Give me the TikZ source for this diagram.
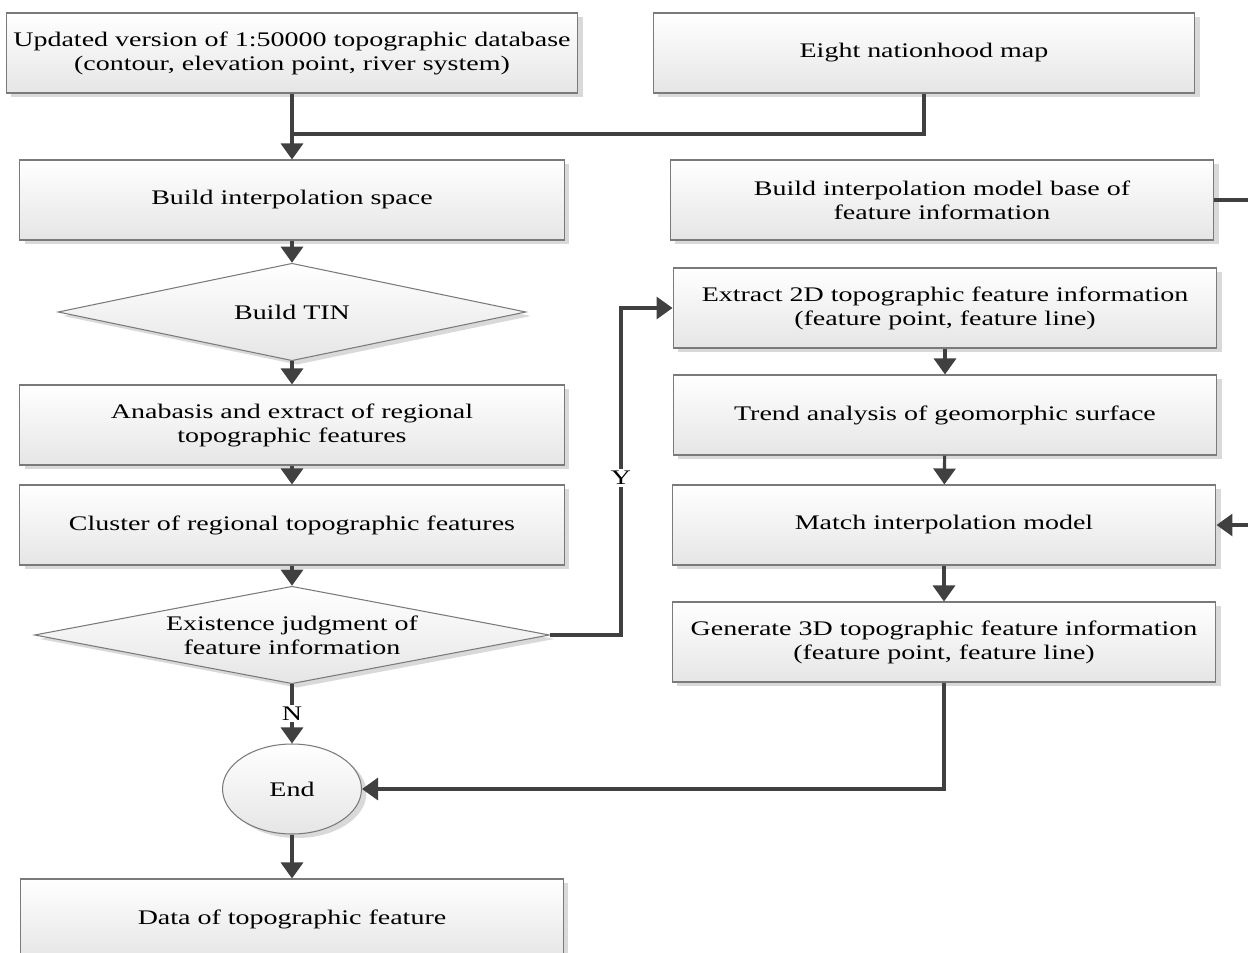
\documentclass[tikz,border=0pt]{standalone}
\usepackage{fontspec}
\setmainfont{Liberation Serif}[FakeStretch=1.35]
\usetikzlibrary{arrows.meta,shapes.geometric,shadows}

\definecolor{linegray}{HTML}{404040}
\definecolor{edgegray}{HTML}{7A7A7A}

\tikzset{
  base/.style={draw=edgegray, line width=0.6pt, top color=white, bottom color=black!10,
    align=center, inner sep=0pt, font=\fontsize{11.8}{13.7}\selectfont,
    drop shadow={shadow xshift=0.1cm, shadow yshift=-0.08cm, fill=black!15, opacity=1}},
  box/.style={base, rectangle, minimum height=1.6cm},
  decision/.style={base, diamond, minimum height=1.95cm},
  stop/.style={base, ellipse, minimum width=2.78cm, minimum height=1.8cm},
  link/.style={draw=linegray, line width=1.8pt},
  flow/.style={link, -{Triangle[length=0.32cm, width=0.44cm]}},
  answer/.style={fill=white, inner sep=1pt, font=\fontsize{11.8}{13.7}\selectfont}
}

\begin{document}
\begin{tikzpicture}[x=0.02cm, y=-0.02cm]

\def\wl{10.9cm}
\def\wr{10.88cm}

\useasboundingbox (0,0) rectangle (1248,953);
\clip (0,0) rectangle (1248,953);

% INPUTS
\node [box, minimum width=11.44cm] (upd) at (292,53) {Updated version of 1:50000 topographic database\\(contour, elevation point, river system)};
\node [box, minimum width=10.84cm] (eight) at (924,53) {Eight nationhood map};
\coordinate (merge) at (292,134);

% LEFT COLUMN
\node [box, minimum width=\wl] (space) at (292,200) {Build interpolation space};
\node [decision, minimum width=9.36cm, label={[font=\fontsize{11.8}{13.7}\selectfont]center:Build TIN}] (tin) at (292,312) {};
\node [box, minimum width=\wl] (anabasis) at (292,425) {Anabasis and extract of regional\\topographic features};
\node [box, minimum width=\wl] (cluster) at (292,525) {Cluster of regional topographic features};
\node [decision, minimum width=10.3cm, label={[align=center, font=\fontsize{11.8}{13.7}\selectfont]center:Existence judgment of\\feature information}] (exist) at (292,635) {};
\node [stop] (end) at (292,789) {End};
\node [box, minimum width=10.86cm] (data) at (292,919) {Data of topographic feature};

% RIGHT COLUMN
\node [box, minimum width=\wr] (model) at (942,200) {Build interpolation model base of\\feature information};
\node [box, minimum width=\wr] (extract) at (945,308) {Extract 2D topographic feature information\\(feature point, feature line)};
\node [box, minimum width=\wr] (trend) at (945,415) {Trend analysis of geomorphic surface};
\node [box, minimum width=\wr] (match) at (944,525) {Match interpolation model};
\node [box, minimum width=\wr] (generate) at (944,642) {Generate 3D topographic feature information\\(feature point, feature line)};
\coordinate (outR) at (1248,200);
\coordinate (inR) at (1248,525);

% CONNECTORS
\draw [link] (eight.south) |- (merge);
\draw [flow] (upd.south) -- (space.north);
\draw [flow] (space) -- (tin);
\draw [flow] (tin) -- (anabasis);
\draw [flow] (anabasis) -- (cluster);
\draw [flow] (cluster) -- (exist);
\draw [flow] (exist.east) -- ++(71,0) |- (extract.west) node [answer, pos=0.24] {Y};
\draw [flow] (exist.south) -- (end.north) node [answer, midway] {N};
\draw [flow] (end) -- (data);
\draw [flow] (extract) -- (trend);
\draw [flow] (trend) -- (match);
\draw [flow] (match) -- (generate);
\draw [flow] (generate.south) |- (end.east);
\draw [link] (model.east) -- (outR);
\draw [flow] (inR) -- (match.east);

\end{tikzpicture}
\end{document}
